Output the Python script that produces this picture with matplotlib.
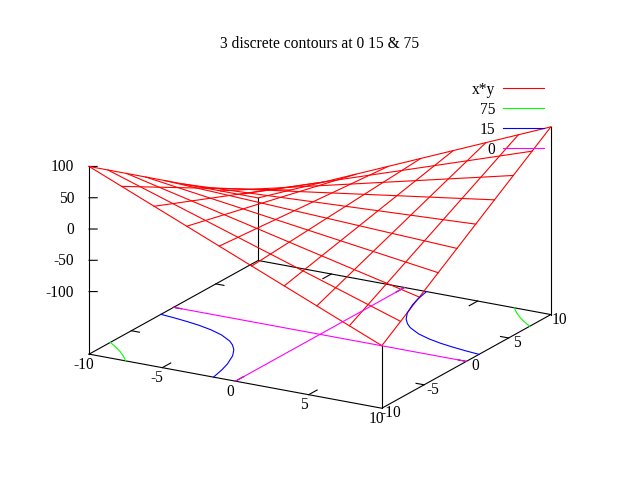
import numpy as np
import matplotlib
matplotlib.use("Agg")
import matplotlib.pyplot as plt
from matplotlib.lines import Line2D
from mpl_toolkits.mplot3d import proj3d

plt.rcParams['font.family'] = ['Liberation Serif', 'DejaVu Serif']

# surface samples
grid_x = [-10, -7.78, -5.56, -3.33, -1.11, 1.11, 3.33, 5.56, 7.78, 10]
grid_y = [-10, -7.78, -5.56, -3.33, -1.11, 1.11, 3.33, 5.56, 7.78, 10]
grid_z = [
    [100, 77.8, 55.6, 33.3, 11.1, -11.1, -33.3, -55.6, -77.8, -100],
    [77.8, 60.5, 43.2, 25.9, 8.6, -8.6, -25.9, -43.2, -60.5, -77.8],
    [55.6, 43.2, 30.9, 18.5, 6.2, -6.2, -18.5, -30.9, -43.2, -55.6],
    [33.3, 25.9, 18.5, 11.1, 3.7, -3.7, -11.1, -18.5, -25.9, -33.3],
    [11.1, 8.6, 6.2, 3.7, 1.2, -1.2, -3.7, -6.2, -8.6, -11.1],
    [-11.1, -8.6, -6.2, -3.7, -1.2, 1.2, 3.7, 6.2, 8.6, 11.1],
    [-33.3, -25.9, -18.5, -11.1, -3.7, 3.7, 11.1, 18.5, 25.9, 33.3],
    [-55.6, -43.2, -30.9, -18.5, -6.2, 6.2, 18.5, 30.9, 43.2, 55.6],
    [-77.8, -60.5, -43.2, -25.9, -8.6, 8.6, 25.9, 43.2, 60.5, 77.8],
    [-100, -77.8, -55.6, -33.3, -11.1, 11.1, 33.3, 55.6, 77.8, 100],
]

# contours on the base plane
c75_low_x = [-10, -9.3, -8.66, -8.06, -7.5]
c75_low_y = [-7.5, -8.06, -8.66, -9.3, -10]
c75_high_x = [7.5, 8.06, 8.66, 9.3, 10]
c75_high_y = [10, 9.3, 8.66, 8.06, 7.5]
c15_low_x = [-10, -9, -8, -7, -6, -5, -4, -3.5, -3, -2.5, -2, -1.75, -1.5]
c15_low_y = [-1.5, -1.67, -1.88, -2.14, -2.5, -3, -3.75, -4.29, -5, -6, -7.5, -8.57, -10]
c15_high_x = [1.5, 1.75, 2, 2.5, 3, 3.5, 4, 5, 6, 7, 8, 9, 10]
c15_high_y = [10, 8.57, 7.5, 6, 5, 4.29, 3.75, 3, 2.5, 2.14, 1.88, 1.67, 1.5]
c0_a_x = [-10, 10]
c0_a_y = [0, 0]
c0_b_x = [0, 0]
c0_b_y = [-10, 10]

x_ticks = [-10, -5, 0, 5, 10]
y_ticks = [-10, -5, 0, 5, 10]
z_ticks = [-100, -50, 0, 50, 100]
z_base = -200

RED, GREEN, BLUE, MAGENTA = '#ff0000', '#00ff00', '#0000ff', '#ff00ff'
LW = 0.8
FS = 11.2

fig = plt.figure(figsize=(6.4, 4.8), dpi=100)
ax = fig.add_axes([73.5 / 640, -7 / 480, 480 / 640, 1], projection='3d', proj_type='ortho')
ax.computed_zorder = False
ax.view_init(elev=18.66, azim=-60)
ax.set_xlim(-10, 10)
ax.set_ylim(-10, 10)
ax.set_zlim(z_base, 100)
ax.set_box_aspect((1, 1, 0.586), zoom=1.0465)
ax.set_axis_off()


def line(xs, ys, zs, color='black', zorder=1):
    ax.plot(xs, ys, zs, color=color, lw=LW, zorder=zorder, clip_on=False)


def label(x, y, z, text, dx, dy, ha='center'):
    px, py, _ = proj3d.proj_transform(x, y, z, ax.get_proj())
    ax.annotate(text, (px, py), xytext=(dx, dy), textcoords='offset pixels',
                ha=ha, va='center', fontsize=FS, annotation_clip=False)


# border
line([-10, 10, 10, -10, -10], [-10, -10, 10, 10, -10], [z_base] * 5)
line([-10, -10], [-10, -10], [z_base, 100])
line([-10, -10], [10, 10], [z_base, -100])
line([10, 10], [-10, -10], [z_base, -100])
line([10, 10], [10, 10], [z_base, 100])

# tick marks
for t in x_ticks[1:-1]:
    line([t, t], [-10, -9], [z_base, z_base])
    line([t, t], [10, 9], [z_base, z_base])
for t in y_ticks[1:-1]:
    line([-10, -9.45], [t, t], [z_base, z_base])
    line([10, 9.45], [t, t], [z_base, z_base])
for t in z_ticks:
    line([-10, -9.59], [-10, -9.76], [t, t])

# surface
gx = np.array(grid_x)
gy = np.array(grid_y)
gz = np.array(grid_z)
for i in range(len(grid_x)):
    line(np.full(len(grid_y), gx[i]), gy, gz[i], RED, 2)
for j in range(len(grid_y)):
    line(gx, np.full(len(grid_x), gy[j]), gz[:, j], RED, 2)

# contours
for xs, ys in [(c75_low_x, c75_low_y), (c75_high_x, c75_high_y)]:
    line(xs, ys, [z_base] * len(xs), GREEN, 3)
for xs, ys in [(c15_low_x, c15_low_y), (c15_high_x, c15_high_y)]:
    line(xs, ys, [z_base] * len(xs), BLUE, 3)
for xs, ys in [(c0_a_x, c0_a_y), (c0_b_x, c0_b_y)]:
    line(xs, ys, [z_base] * len(xs), MAGENTA, 3)

# tick labels, pixel offsets from the axis
for t in x_ticks:
    label(t, -10, z_base, str(t), -5, -10.5)
for t in y_ticks:
    label(10, t, z_base, str(t), 8.5, -5)
for t in z_ticks:
    label(-10, -10, t, str(t), -15, -1, ha='right')

fig.suptitle("3 discrete contours at 0 15 & 75", x=0.5, y=1 - 44 / 480, va='center', fontsize=FS)

handles = [Line2D([], [], color=c, lw=LW) for c in (RED, GREEN, BLUE, MAGENTA)]
fig.legend(handles, ['x*y', '75', '15', '0'], loc='upper right',
           bbox_to_anchor=(543.5 / 640, 1 - 81.5 / 480), frameon=False, markerfirst=False,
           fontsize=FS, handlelength=2.6, handletextpad=0.5, labelspacing=0.265,
           borderpad=0, borderaxespad=0)

fig.savefig("out.png", dpi=100)
